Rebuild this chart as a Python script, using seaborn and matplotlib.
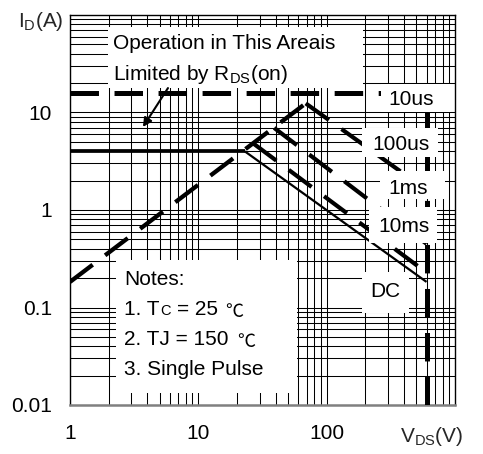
import matplotlib
matplotlib.use("Agg")
import matplotlib.pyplot as plt
from matplotlib.patches import Rectangle
import seaborn as sns

# Safe operating area boundaries: drain-source voltage (V) vs drain current (A)
rds_v = [1, 68.7]            # R_DS(on) limited region
rds_i = [0.183, 12.4]
t10us_v = [1, 600]           # pulsed current limit (I_DM)
t10us_i = [16, 16]
bvdss_v = [600, 600]         # breakdown voltage limit
bvdss_i = [0.01, 16]
t100us_v = [68.7, 600]
t100us_i = [12.4, 1.6]
t1ms_v = [39.0, 600]
t1ms_i = [6.95, 0.45]
t10ms_v = [26.9, 600]
t10ms_i = [4.8, 0.228]
dc_flat_v = [1, 23.0]        # continuous current limit
dc_flat_i = [4.0, 4.0]
dc_v = [23.0, 600]
dc_i = [4.0, 0.183]

arrow_tail = (5.8, 17.8)
arrow_tip = (3.7, 7.1)

x_ticks = [1, 10, 100]
x_tick_labels = ["1", "10", "100"]
y_ticks = [0.01, 0.1, 1, 10]
y_tick_labels = ["0.01", "0.1", "1", "10"]

sns.set_theme(style="white")
plt.rcParams["font.family"] = ["Liberation Sans", "DejaVu Sans"]
plt.rcParams["mathtext.fontset"] = "custom"
plt.rcParams["mathtext.rm"] = "Liberation Sans"
plt.rcParams["mathtext.it"] = "Liberation Sans:italic"
plt.rcParams["lines.scale_dashes"] = False

W, H = 483, 454
fig = plt.figure(figsize=(W / 100, H / 100), dpi=100)
fig.patch.set_facecolor("white")
ax = fig.add_axes([70 / W, 49 / H, 385 / W, 390 / H])
ax.set_facecolor("white")
ax.set_xscale("log")
ax.set_yscale("log")

dash = (0, (20.5, 11.2))


def draw(v, i, lw, ls, z):
    sns.lineplot(x=v, y=i, ax=ax, color="black", linewidth=lw, linestyle=ls,
                 estimator=None, sort=False, zorder=z,
                 solid_capstyle="butt", dash_capstyle="butt")


draw(rds_v, rds_i, 3.1, dash, 3)
draw(t10us_v, t10us_i, 3.6, dash, 3)
draw(bvdss_v, bvdss_i, 3.6, dash, 3)
draw(t100us_v, t100us_i, 3.0, dash, 3)
draw(t1ms_v, t1ms_i, 3.0, dash, 3)
draw(t10ms_v, t10ms_i, 3.0, dash, 3)
draw(dc_flat_v, dc_flat_i, 2.7, "-", 3)
draw(dc_v, dc_i, 1.6, "-", 3)

ax.set_xlim(1, 1000)
ax.set_ylim(0.01, 100)
ax.set_xlabel("")
ax.set_ylabel("")

ax.set_axisbelow(True)
ax.grid(which="both", color="black", linewidth=0.75)
ax.set_xticks(x_ticks)
ax.set_xticklabels(x_tick_labels)
ax.set_yticks(y_ticks)
ax.set_yticklabels(y_tick_labels)
ax.tick_params(axis="both", which="minor", length=0, labelleft=False, labelbottom=False)
ax.tick_params(axis="x", which="major", length=0, pad=13.5, labelsize=15, colors="black")
ax.tick_params(axis="y", which="major", direction="in", length=4.5, width=1,
               color="#888888", pad=13, labelsize=15, labelcolor="black")

for side in ("left", "right", "top"):
    ax.spines[side].set_color("black")
    ax.spines[side].set_linewidth(1.0)
ax.spines["bottom"].set_color("#808080")
ax.spines["bottom"].set_linewidth(1.8)


def px_box(x0, y0, x1, y1, z):
    ax.add_patch(Rectangle(((x0 - 70) / 385, (405 - y1) / 390),
                           (x1 - x0) / 385, (y1 - y0) / 390,
                           transform=ax.transAxes, facecolor="white",
                           edgecolor="none", zorder=z))


def px_text(x, y, s, size=15, z=6, **kw):
    ax.text((x - 70) / 385, (405 - y) / 390, s, transform=ax.transAxes,
            fontsize=size, ha="left", va="baseline", color="black", zorder=z, **kw)


# Annotation panels
px_box(108, 27, 363, 88, 2)
px_box(116, 260, 297, 393, 2)
# Curve labels
px_box(381, 84, 451, 112, 4)
px_box(362, 128, 438, 157, 4)
px_box(380, 171, 445, 199, 4)
px_box(369, 207, 437, 243, 4)
px_box(362, 272, 409, 313, 4)

px_text(113, 49.5, "Operation in This Areais")
px_text(113, 80.5, r"Limited by R$_{\mathregular{DS}}$(on)")
ax.annotate("", xy=arrow_tip, xytext=arrow_tail,
            arrowprops=dict(arrowstyle="-|>", color="black", lw=1.5,
                            mutation_scale=13, shrinkA=0, shrinkB=0),
            zorder=5)

px_text(388, 105, "10us")
px_text(372, 150, "100us")
px_text(388, 194, "1ms")
px_text(378, 232, "10ms")
px_text(370, 297, "DC")

px_text(124, 285, "Notes:")
px_text(124, 315, "1. T")
px_text(160, 315, "C", size=10.5)
px_text(177, 315, "= 25")
px_text(225, 317, "\u2103", size=13, family=["Noto Sans CJK SC", "DejaVu Sans"])
px_text(124, 345, "2. TJ = 150")
px_text(237, 347, "\u2103", size=13, family=["Noto Sans CJK SC", "DejaVu Sans"])
px_text(124, 375, "3. Single Pulse")

fig.text(18 / W, 1 - 27 / H, r"I$_{\mathregular{D}}$(A)", fontsize=15,
         ha="left", va="baseline")
fig.text(400 / W, 1 - 442 / H, r"V$_{\mathregular{DS}}$(V)", fontsize=15,
         ha="left", va="baseline")

fig.savefig("out.png", dpi=100, facecolor="white")
